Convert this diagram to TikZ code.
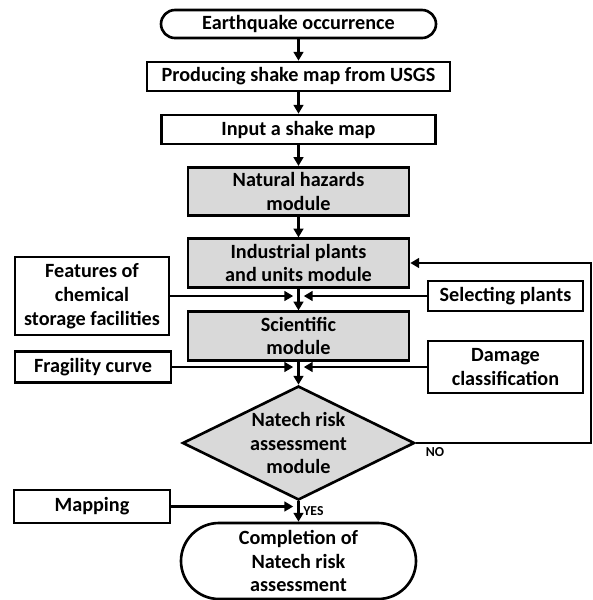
\documentclass[tikz,border=0pt]{standalone}
\usepackage{fontspec}
\setmainfont{Carlito}
\usetikzlibrary{positioning,arrows.meta,shapes.geometric,calc}

\begin{document}
\begin{tikzpicture}[
  >={Triangle[length=5pt,width=5.5pt]},
  every node/.style={font=\fontsize{11.5}{13.6}\selectfont\bfseries,align=center,inner sep=1pt},
  every path/.style={line width=1.5pt},
  stadium/.style={draw,rectangle,rounded corners=#1},
  box/.style={draw,rectangle},
  module/.style={draw,rectangle,fill=black!15,minimum width=4.42cm,minimum height=0.97cm},
  decision/.style={draw,diamond,aspect=2,fill=black!15,inner sep=0pt,minimum width=4.64cm,minimum height=2.28cm},
  tag/.style={font=\fontsize{7.8}{9}\selectfont\bfseries}
]

\useasboundingbox (0,0) rectangle (11.86,-12);

% main column
\node[stadium=0.28cm,minimum width=5.5cm,minimum height=0.56cm] (start) at (5.97,-0.48) {Earthquake occurrence};
\node[box,minimum width=6.06cm,minimum height=0.58cm] (shake) at (5.97,-1.53) {Producing shake map from USGS};
\node[box,minimum width=5.48cm,minimum height=0.58cm] (input) at (5.97,-2.59) {Input a shake map};
\node[module] (hazard) at (5.97,-3.83) {Natural hazards\\module};
\node[module] (plants) at (5.97,-5.26) {Industrial plants\\and units module};
\node[module] (science) at (5.97,-6.72) {Scientific\\module};
\node[decision] (risk) at (5.97,-8.86) {Natech risk\\assessment\\module};
\node[stadium=0.76cm,minimum width=4.7cm,minimum height=1.52cm] (stop) at (5.97,-11.22) {Completion of\\Natech risk\\assessment};

% side inputs
\node[box,minimum width=3.08cm,minimum height=1.56cm] (features) at (1.84,-5.92) {Features of\\chemical\\storage facilities};
\node[box,minimum width=3.1cm,minimum height=0.6cm] (selecting) at (10.11,-5.92) {Selecting plants};
\node[box,minimum width=3.12cm,minimum height=0.62cm] (fragility) at (1.86,-7.34) {Fragility curve};
\node[box,minimum width=3.1cm,minimum height=1.04cm] (damage) at (10.11,-7.34) {Damage\\classification};
\node[box,minimum width=3.12cm,minimum height=0.66cm] (mapping) at (1.84,-10.13) {Mapping};

\coordinate (j1) at (5.97,-5.92);
\coordinate (j2) at (5.97,-7.34);
\coordinate (j3) at (5.97,-10.13);
\coordinate (loop) at (11.82,-5.26);

\draw[->] (start) -- (shake);
\draw[->] (shake) -- (input);
\draw[->] (input) -- (hazard);
\draw[->] (hazard) -- (plants);
\draw[->] (plants) -- (science);
\draw[->] (science) -- (risk);
\draw[->] (risk) -- node[tag,right=1pt,pos=0.5] {YES} (stop);

\draw[->,shorten >=3pt] (features.east |- j1) -- (j1);
\draw[->,shorten >=3pt] (selecting.west |- j1) -- (j1);
\draw[->,shorten >=3pt] (fragility.east |- j2) -- (j2);
\draw[->,shorten >=3pt] (damage.west |- j2) -- (j2);
\draw[->,shorten >=3pt] (mapping.east |- j3) -- (j3);

\draw[->] (risk.east) node[tag,below right=1pt and 4pt] {NO} -| (loop) -- (plants.east);

\end{tikzpicture}
\end{document}
